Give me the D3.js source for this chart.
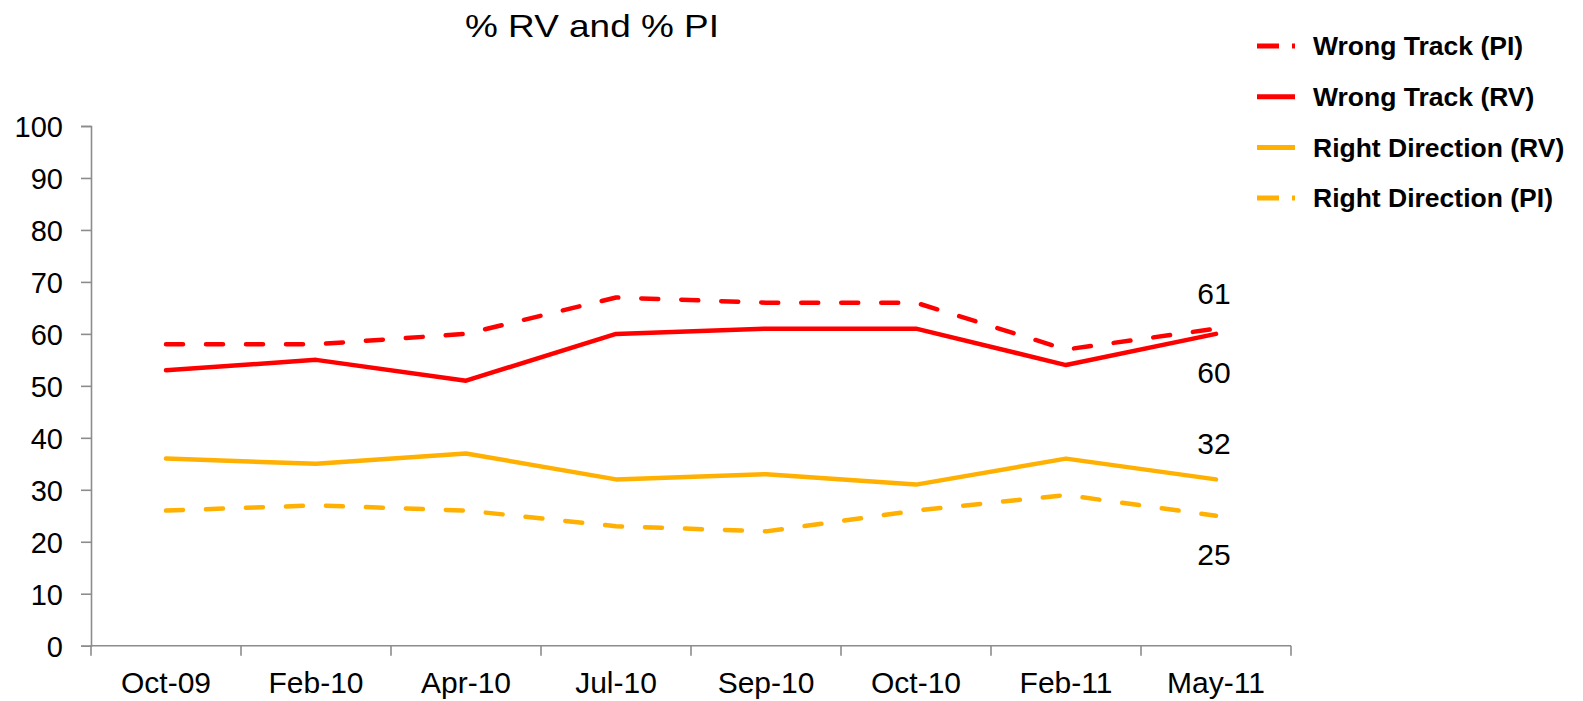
<!DOCTYPE html>
<html>
<head>
<meta charset="utf-8">
<script src="https://cdn.jsdelivr.net/npm/d3@7"></script>
<style>
  html, body { margin: 0; padding: 0; background: #fff; }
  svg { display: block; font-family: 'Liberation Sans', Arial, sans-serif; }
</style>
</head>
<body>
<div id="chart"></div>
<script>
const categories = ['Oct-09', 'Feb-10', 'Apr-10', 'Jul-10', 'Sep-10', 'Oct-10', 'Feb-11', 'May-11'];
const wrongTrackPI = [58, 58, 60, 67, 66, 66, 57, 61];
const wrongTrackRV = [53, 55, 51, 60, 61, 61, 54, 60];
const rightDirectionRV = [36, 35, 37, 32, 33, 31, 36, 32];
const rightDirectionPI = [26, 27, 26, 23, 22, 26, 29, 25];
const yTicks = [0, 10, 20, 30, 40, 50, 60, 70, 80, 90, 100];

const series = [
    {name: 'Wrong Track (PI)', values: wrongTrackPI, color: '#ff0000', dashed: true, label: 'above'},
    {name: 'Wrong Track (RV)', values: wrongTrackRV, color: '#ff0000', dashed: false, label: 'below'},
    {name: 'Right Direction (RV)', values: rightDirectionRV, color: '#ffb000', dashed: false, label: 'above'},
    {name: 'Right Direction (PI)', values: rightDirectionPI, color: '#ffb000', dashed: true, label: 'below'}
];

const width = 1583, height = 701;
const margin = {top: 126, right: 292, bottom: 55, left: 91};

const svg = d3.select('#chart').append('svg')
    .attr('width', width)
    .attr('height', height);

const x = d3.scaleBand()
    .domain(categories)
    .range([margin.left, width - margin.right]);

const y = d3.scaleLinear()
    .domain([0, 100])
    .range([height - margin.bottom - 0.3, margin.top]);

const axisColor = '#8c8c8c';

// y axis
const yAxis = svg.append('g')
    .attr('transform', `translate(${margin.left},0)`)
    .call(d3.axisLeft(y).tickValues(yTicks).tickSize(10).tickPadding(18));
yAxis.select('.domain').attr('stroke', axisColor).attr('stroke-width', 1.6);
yAxis.selectAll('.tick line').attr('stroke', axisColor).attr('stroke-width', 1.6);
yAxis.selectAll('.tick text')
    .attr('fill', '#000')
    .style('font-size', '29px')
    .attr('dy', '0.36em');

// x axis, ticks sit on the category boundaries
const xAxisG = svg.append('g')
    .attr('transform', `translate(0,${y(0)})`);
xAxisG.append('line')
    .attr('x1', x.range()[0]).attr('x2', x.range()[1])
    .attr('stroke', axisColor).attr('stroke-width', 1.6);
const bounds = categories.map(function (c) { return x(c); }).concat([x.range()[1]]);
xAxisG.selectAll('.bt')
    .data(bounds)
    .enter()
    .append('line')
    .attr('x1', function (d) { return d; })
    .attr('x2', function (d) { return d; })
    .attr('y1', 0)
    .attr('y2', 10)
    .attr('stroke', axisColor).attr('stroke-width', 1.6);
xAxisG.selectAll('text')
    .data(categories)
    .enter()
    .append('text')
    .attr('x', function (d) { return x(d) + x.bandwidth() / 2; })
    .attr('y', 47)
    .attr('text-anchor', 'middle')
    .style('font-size', '30px')
    .text(function (d) { return d; });

// lines
const line = d3.line()
    .x(function (d, i) { return x(categories[i]) + x.bandwidth() / 2; })
    .y(function (d) { return y(d); });

svg.append('g')
    .selectAll('path')
    .data(series)
    .enter()
    .append('path')
    .attr('d', function (d) { return line(d.values); })
    .attr('fill', 'none')
    .attr('stroke', function (d) { return d.color; })
    .attr('stroke-width', 4.5)
    .attr('stroke-linejoin', 'round')
    .attr('stroke-linecap', 'round')
    .attr('stroke-dasharray', function (d) { return d.dashed ? '17,23' : null; });

// end labels
const last = categories.length - 1;
svg.append('g')
    .selectAll('text')
    .data(series)
    .enter()
    .append('text')
    .attr('x', x(categories[last]) + x.bandwidth() / 2 - 2)
    .attr('y', function (d) {
        return y(d.values[last]) + (d.label === 'above' ? -25 : 49);
    })
    .attr('text-anchor', 'middle')
    .style('font-size', '30px')
    .text(function (d) { return d.values[last]; });

// title
svg.append('text')
    .attr('x', 592)
    .attr('y', 37)
    .attr('text-anchor', 'middle')
    .attr('textLength', 254)
    .attr('lengthAdjust', 'spacingAndGlyphs')
    .style('font-size', '32px')
    .text('% RV and % PI');

// legend
const legend = svg.append('g')
    .selectAll('g')
    .data(series)
    .enter()
    .append('g')
    .attr('transform', function (d, i) { return `translate(1257,${46 + i * 50.7})`; });
legend.append('line')
    .attr('x1', 0).attr('x2', 38)
    .attr('stroke', function (d) { return d.color; })
    .attr('stroke-width', 5)
    .attr('stroke-dasharray', function (d) { return d.dashed ? '22,13' : null; });
legend.append('text')
    .attr('x', 56)
    .attr('dy', '0.35em')
    .style('font-size', '26.5px')
    .style('font-weight', 'bold')
    .text(function (d) { return d.name; });
</script>
</body>
</html>
